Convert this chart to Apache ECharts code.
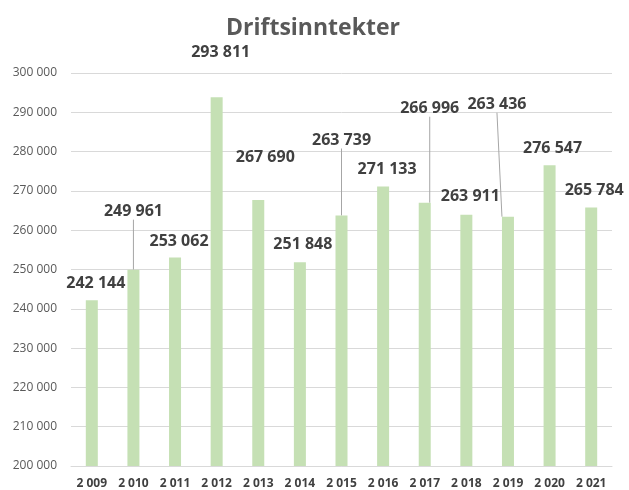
<!DOCTYPE html>
<html>
<head>
<meta charset="utf-8">
<script src="https://cdn.jsdelivr.net/npm/echarts@6/dist/echarts.min.js"></script>
<style>html,body{margin:0;padding:0;background:#fff;}#c{width:629px;height:490px;}</style>
</head>
<body>
<div id="c"></div>
<script>
const categories = ['2 009','2 010','2 011','2 012','2 013','2 014','2 015','2 016','2 017','2 018','2 019','2 020','2 021'];
const values = [242144, 249961, 253062, 293811, 267690, 251848, 263739, 271133, 266996, 263911, 263436, 276547, 265784];
const yTicks = {min: 200000, max: 300000, interval: 10000};
// label layout tweaks (pixels) and which labels get a leader line
const labelDx = [4, 0, 4, 4, 7, 3, 0, 4, 5, 4, -11, 3, 3];
const labelDy = [-4, -45, -3, -32, -30, -5, -62, -4, -81, -5, -99, -4, -4];
const leader = [false, true, false, false, false, false, true, false, true, false, true, false, false];

const fmt = v => String(v).replace(/\B(?=(\d{3})+(?!\d))/g, ' ');

const chart = echarts.init(document.getElementById('c'), null, {renderer: 'canvas'});
chart.setOption({
  animation: false,
  title: {
    text: 'Driftsinntekter', left: 221, top: 12,
    textStyle: {fontFamily: 'Open Sans', fontWeight: 'bold', fontSize: 23, color: '#595959'}
  },
  grid: {left: 71, right: 17, top: 73, bottom: 24, containLabel: false},
  xAxis: {
    type: 'category', data: categories,
    axisLine: {show: true, lineStyle: {color: '#d9d9d9'}},
    axisTick: {show: false},
    axisLabel: {fontFamily: 'Open Sans', fontWeight: 'bold', fontSize: 12, color: '#404040', margin: 12}
  },
  yAxis: {
    type: 'value', min: yTicks.min, max: yTicks.max, interval: yTicks.interval,
    axisLine: {show: false}, axisTick: {show: false},
    splitLine: {lineStyle: {color: '#d9d9d9'}},
    axisLabel: {fontFamily: 'Open Sans', fontSize: 12, color: '#595959', margin: 14, formatter: fmt}
  },
  series: [{
    type: 'bar',
    barWidth: 12,
    itemStyle: {color: '#c5e0b4'},
    data: values.map((v, i) => ({value: v, labelLine: {show: leader[i]}})),
    label: {
      show: true, position: 'top', distance: 5,
      fontFamily: 'Open Sans', fontWeight: 'bold', fontSize: 16, color: '#404040',
      formatter: p => fmt(p.value)
    },
    labelLine: {show: false, lineStyle: {color: '#a6a6a6', width: 1}},
    labelLayout: p => {
      const i = p.dataIndex;
      const out = {dx: labelDx[i], dy: labelDy[i]};
      if (leader[i]) {
        const lr = p.labelRect, r = p.rect;
        const cx = lr.x + lr.width / 2 + labelDx[i];
        const bottom = lr.y + lr.height + labelDy[i];
        const barTop = Math.min(r.y, r.y + r.height);
        out.labelLinePoints = [[cx - 5, bottom + 3], [r.x + r.width / 2, barTop]];
      }
      return out;
    }
  }]
});
</script>
</body>
</html>
